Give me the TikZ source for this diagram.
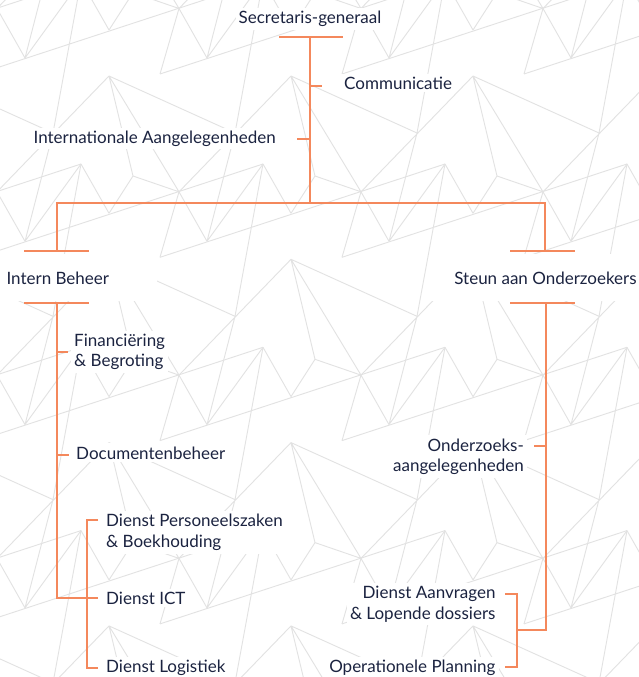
\documentclass[tikz,border=0pt]{standalone}
\usepackage{fontspec}
\setmainfont{Lato}
\definecolor{orgline}{HTML}{F4885C}
\definecolor{txtc}{HTML}{1B2340}
\definecolor{patc}{HTML}{E2E2E2}
\newcommand{\lblL}[2]{\vtop{\baselineskip=20.7pt\halign{##\hfil\cr #1\cr #2\cr}}}
\newcommand{\lblR}[2]{\vtop{\baselineskip=20.7pt\halign{\hfil##\cr #1\cr #2\cr}}}
\begin{document}
\begin{tikzpicture}[x=1pt,y=-1pt,
  txtnode/.style={font=\fontsize{17}{20}\selectfont, text=txtc, fill=white, inner sep=3pt},
  orgl/.style={draw=orgline, line width=1.6pt},
  patl/.style={draw=patc, line width=0.9pt}]
\useasboundingbox (0,0) rectangle (639,677);
\fill[white] (0,0) rectangle (639,677);
% background pattern
\begin{scope}
\clip (0,0) rectangle (639,677);
\foreach \i in {-2,...,3}{\foreach \j in {-2,...,3}{
  \begin{scope}[shift={(\i*182,\j*183.3)}]
    \draw[patl] (-22,74)--(263,-19.3)
      (179,8.5)--(160,74)
      (179,8.5)--(207,58)
      (109,76)--(133,176)
      (109,76)--(179,191.8)
      (109,76)--(-3,191.8)
      (109,76)--(235,133)
      (81,164)--(109,213.3)
      (81,164)--(25,241.3)
      (81,-19.3)--(53,133)
      (53,133)--(25,241.3)
      (133,176)--(179,191.8)
      (133,176)--(109,213.3);
  \end{scope}}}
\end{scope}
\fill[white] (-1,254) rectangle (157,301);
\fill[white] (430,254) rectangle (640,301);
% texts
\node[txtnode, anchor=base] (sg) at (310,23.5) {Secretaris-generaal};
\node[txtnode, anchor=base west] (com) at (341,89.3) {Communicatie};
\node[txtnode, anchor=base east] (int) at (279,143.3) {Internationale Aangelegenheden};
\node[txtnode, anchor=base] (ib) at (57.8,284.3) {Intern Beheer};
\node[txtnode, anchor=base] (so) at (545.5,284.3) {Steun aan Onderzoekers};
\node[txtnode, anchor=base west] (fin) at (71,346) {\lblL{Financiëring}{\& Begroting}};
\node[txtnode, anchor=base west] (doc) at (73,459) {Documentenbeheer};
\node[txtnode, anchor=base west] (dp) at (103,526.7) {\lblL{Dienst Personeelszaken}{\& Boekhouding}};
\node[txtnode, anchor=base west] (ict) at (103,604) {Dienst ICT};
\node[txtnode, anchor=base west] (log) at (103,672.3) {Dienst Logistiek};
\node[txtnode, anchor=base east] (oa) at (527,451) {\lblR{Onderzoeks-}{aangelegenheden}};
\node[txtnode, anchor=base east] (da) at (498.7,598.3) {\lblR{Dienst Aanvragen}{\& Lopende dossiers}};
\node[txtnode, anchor=base east] (op) at (498.7,672.3) {Operationele Planning};
% junction coordinates
\coordinate (sgL) at (279,37); \coordinate (sgR) at (343,37); \coordinate (sgC) at (310,37);
\coordinate (hub) at (310,203);
\coordinate (comJ) at (310,86); \coordinate (comT) at (322,86);
\coordinate (intJ) at (310,139); \coordinate (intT) at (297,139);
\coordinate (hL) at (57,203); \coordinate (hR) at (545,203);
\coordinate (ibT) at (57,251); \coordinate (ibTL) at (24,251); \coordinate (ibTR) at (89,251);
\coordinate (ibB) at (57,303); \coordinate (ibBL) at (24,303); \coordinate (ibBR) at (89,303);
\coordinate (soT) at (545,251); \coordinate (soTL) at (510,251); \coordinate (soTR) at (575,251);
\coordinate (soB) at (546,303); \coordinate (soBL) at (510,303); \coordinate (soBR) at (575,303);
\coordinate (finJ) at (57,352); \coordinate (finT) at (68,352);
\coordinate (docJ) at (57,455); \coordinate (docT) at (69,455);
\coordinate (ictJ) at (57,598); \coordinate (ictT) at (98,598);
\coordinate (dpJ) at (87,520); \coordinate (dpT) at (98,520);
\coordinate (logJ) at (87,668); \coordinate (logT) at (98,668);
\coordinate (oaJ) at (546,446); \coordinate (oaT) at (534,446);
\coordinate (rEnd) at (546,630); \coordinate (rSub) at (517,630);
\coordinate (daJ) at (517,594); \coordinate (daT) at (505,594);
\coordinate (opJ) at (517,667); \coordinate (opT) at (505,667);
% connectors
\draw[orgl] (sgL) -- (sgR);
\draw[orgl] (sgC) -- (hub);
\draw[orgl] (comJ) -- (comT);
\draw[orgl] (intT) -- (intJ);
\draw[orgl] (ibT) -- (hL) -- (hR) -- (soT);
\draw[orgl] (ibTL) -- (ibTR);
\draw[orgl] (ibBL) -- (ibBR);
\draw[orgl] (soTL) -- (soTR);
\draw[orgl] (soBL) -- (soBR);
\draw[orgl] (ibB) -- (ictJ) -- (ictT);
\draw[orgl] (finJ) -- (finT);
\draw[orgl] (docJ) -- (docT);
\draw[orgl] (dpT) -- (dpJ) -- (logJ) -- (logT);
\draw[orgl] (soB) -- (rEnd) -- (rSub);
\draw[orgl] (oaT) -- (oaJ);
\draw[orgl] (daT) -- (daJ) -- (opJ) -- (opT);
\end{tikzpicture}
\end{document}
